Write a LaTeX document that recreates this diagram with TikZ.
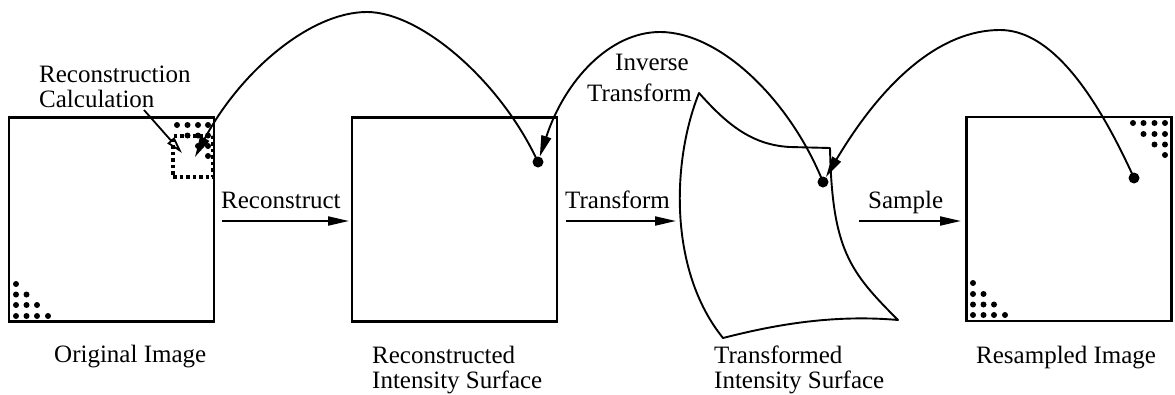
\documentclass[tikz,border=0pt]{standalone}
\usepackage{fontspec}
\setmainfont{Liberation Serif}
\usetikzlibrary{arrows.meta}
\begin{document}
\begin{tikzpicture}[x=1pt,y=-1pt,
  imgbox/.style={draw,line width=2.4pt,minimum width=205pt,minimum height=204pt,inner sep=0pt,outer sep=0pt},
  lbl/.style={font=\fontsize{25}{25}\selectfont,inner sep=0pt,anchor=base west},
  bigdot/.style={circle,fill,minimum size=11pt,inner sep=0pt},
  arcline/.style={line width=1.9pt,-{Triangle[length=21pt,width=10pt]}},
  flow/.style={line width=2pt,-{Triangle[length=21pt,width=9pt]}},
  pointer/.style={line width=1.8pt,-{Triangle[open,length=17pt,width=9pt]}},
  surf/.style={draw,line width=1.9pt,line join=round},
  calcbox/.style={draw,line width=3.4pt,dash pattern=on 3.5pt off 3pt,minimum width=40pt,minimum height=41pt,inner sep=0pt}
]
\useasboundingbox (0,0) rectangle (1175,394);

% image boxes
\node[imgbox] (orig) at (111.5,219.5) {};
\node[imgbox] (recon) at (454.5,219.5) {};
\node[imgbox] (resamp) at (1069,219) {};

% small dots
\foreach \x/\y in {16/284,16/294.5,26.5/294.5,16/305,26.5/305,37/305,16/316,26.5/316,37/316,48/316,
                   177/125,187.5/125,198/125,208/125,187.5/135.5,198/135.5,208/135.5,198/146,208/146,208/156,
                   973/283,973/294,983.5/294,973/304.5,983.5/304.5,994/304.5,973/315,983.5/315,994/315,1005/315,
                   1133/123,1143.5/123,1154.5/123,1165/123,1143.5/134,1154.5/134,1165/134,1154.5/144.5,1165/144.5,1165/155}
  \fill (\x,\y) circle (3pt);

% reconstruction calculation box
\node[calcbox] (calc) at (193,156.5) {};

% transformed surface
\coordinate (tl) at (699,93);
\coordinate (tr) at (830,148);
\coordinate (br) at (898,320);
\coordinate (bl) at (723,338);
\draw[surf] (tl) .. controls (725,122) and (750,145) .. (790,147) -- (tr)
  .. controls (832,250) and (850,272) .. (br)
  .. controls (830,314) and (770,326) .. (bl)
  .. controls (668,270) and (672,160) .. (tl) -- cycle;

% big dots
\node[bigdot] (d1) at (538,162) {};
\node[bigdot] (d2) at (823,182) {};
\node[bigdot] (d3) at (1134,178) {};
\coordinate (t1) at (195,157);

% arcs
\draw[arcline] (d1.center) .. controls (500,80) and (420,12) .. (367,12)
  .. controls (310,12) and (240,72) .. (t1);
\draw[arcline] (d2.center) .. controls (790,100) and (720,32) .. (660,32)
  .. controls (610,32) and (565,80) .. (d1);
\draw[arcline] (d3.center) .. controls (1089,79) and (1045,30) .. (1000,30)
  .. controls (942,30) and (885,78) .. (d2);

% labels
\node[lbl] (rc1) at (39,82) {Reconstruction};
\node[lbl] (rc2) at (39,107) {Calculation};
\coordinate (pstart) at (144,110);
\coordinate (pend) at (182,153);
\draw[pointer] (pstart) -- (pend);

\node[lbl,anchor=base east] (inv1) at (689,70) {Inverse};
\node[lbl,anchor=base east] (inv2) at (692,101) {Transform};

% flow arrows
\coordinate (a1s) at (222,221); \coordinate (a1e) at (349,221);
\coordinate (a2s) at (566,221); \coordinate (a2e) at (676,221);
\coordinate (a3s) at (859,221); \coordinate (a3e) at (961,221);
\draw[flow] (a1s) -- (a1e);
\draw[flow] (a2s) -- (a2e);
\draw[flow] (a3s) -- (a3e);
\node[lbl] (lr) at (221,208) {Reconstruct};
\node[lbl] (lt) at (565,208) {Transform};
\node[lbl] (ls) at (868,208) {Sample};

% captions
\node[lbl] (c1) at (54,362) {Original Image};
\node[lbl] (c2a) at (372,363) {Reconstructed};
\node[lbl] (c2b) at (372,388) {Intensity Surface};
\node[lbl] (c3a) at (714,363) {Transformed};
\node[lbl] (c3b) at (714,388) {Intensity Surface};
\node[lbl] (c4) at (976,363) {Resampled Image};
\end{tikzpicture}
\end{document}
